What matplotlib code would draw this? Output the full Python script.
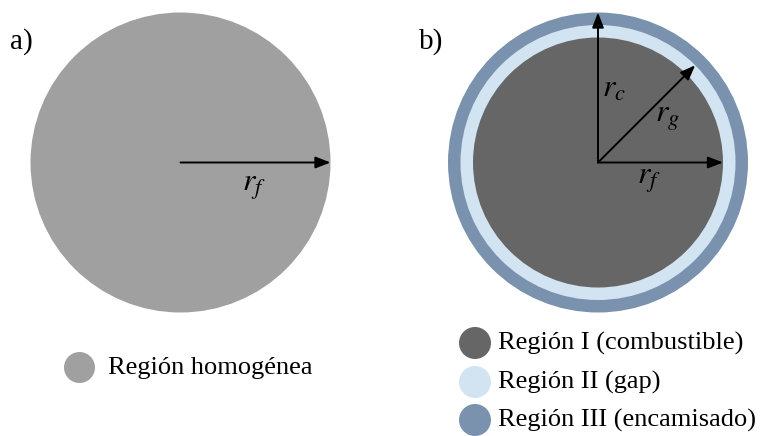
import matplotlib
matplotlib.use("Agg")
import matplotlib.pyplot as plt
from matplotlib.patches import Circle
import numpy as np

plt.rcParams["mathtext.fontset"] = "stix"
plt.rcParams["font.family"] = ["Liberation Serif", "DejaVu Serif"]

# Panel a: homogeneous pellet
homog_label = "Región homogénea"
homog_color = "#a0a0a0"
homog_radius = 150.0

# Panel b: fuel / gap / cladding regions (radii in the same units)
region_labels = ["Región I (combustible)", "Región II (gap)", "Región III (encamisado)"]
region_colors = ["#666666", "#d2e4f1", "#7a92ae"]
region_radii = [125.0, 137.5, 150.0]  # r_f, r_g, r_c
radius_names = [r"$r_f$", r"$r_g$", r"$r_c$"]
radius_angles = [0.0, 45.0, 90.0]  # degrees

W, H = 761, 436
fig = plt.figure(figsize=(W / 100, H / 100), dpi=100)
ax = fig.add_axes([0, 0, 1, 1])
ax.set_xlim(0, W)
ax.set_ylim(H, 0)
ax.set_aspect("equal")
ax.axis("off")

arrow_kw = dict(arrowstyle="-|>,head_length=0.9,head_width=0.35", color="black",
                lw=1.4, shrinkA=0, shrinkB=0)

# ---- panel a ----
ca = (180.5, 162.5)
ax.add_patch(Circle(ca, homog_radius, color=homog_color, lw=0))
ax.annotate("", xy=(ca[0] + homog_radius, ca[1]), xytext=ca, arrowprops=arrow_kw)
ax.text(ca[0] + 73, ca[1] + 25, r"$r_f$", fontsize=23, ha="center", va="center")
ax.text(10, 42, "a)", fontsize=21, ha="left", va="center")

# ---- panel b ----
cb = (598, 162.5)
for r, col in sorted(zip(region_radii, region_colors), reverse=True):
    ax.add_patch(Circle(cb, r, color=col, lw=0))

label_offsets = [(51, 18), (69, -44), (16, -73)]
for r, ang, name, off in zip(region_radii, radius_angles, radius_names, label_offsets):
    t = np.deg2rad(ang)
    tip = (cb[0] + r * np.cos(t), cb[1] - r * np.sin(t))
    ax.annotate("", xy=tip, xytext=cb, arrowprops=arrow_kw)
    ax.text(cb[0] + off[0], cb[1] + off[1], name, fontsize=23, ha="center", va="center")
ax.text(419, 42, "b)", fontsize=21, ha="left", va="center")

# ---- legends ----
ax.add_patch(Circle((79.5, 367.5), 15.5, color=homog_color, lw=0))
ax.text(108, 368, homog_label, fontsize=19, ha="left", va="center")

leg_y = [343, 382, 420]
for y, lab, col in zip(leg_y, region_labels, region_colors):
    ax.add_patch(Circle((475, y), 16, color=col, lw=0))
    ax.text(498, y, lab, fontsize=19, ha="left", va="center")

fig.savefig("out.png", dpi=100, facecolor="white")
